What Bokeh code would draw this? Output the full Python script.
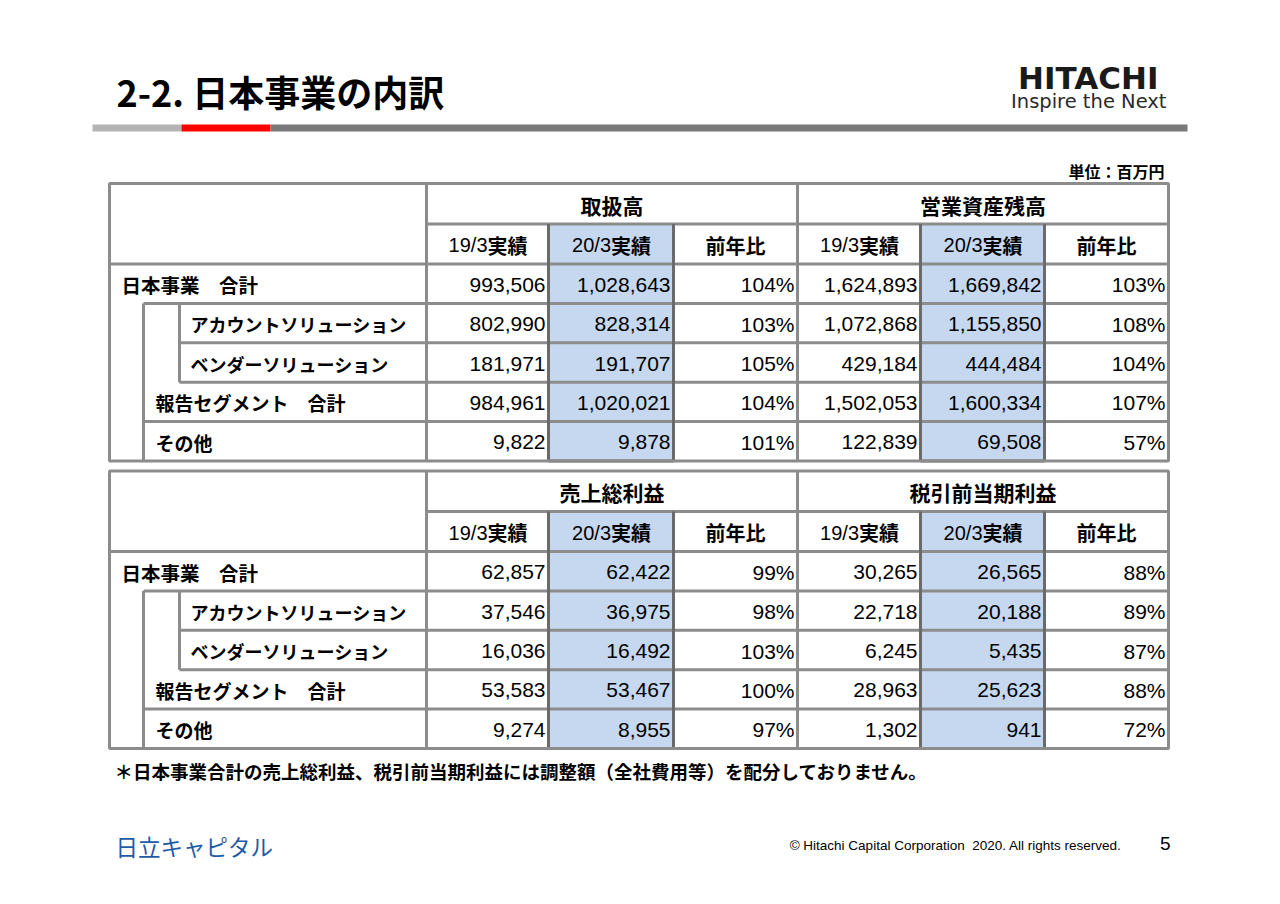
from bokeh.plotting import figure
from bokeh.models import Range1d, ColumnDataSource
from bokeh.core.properties import value
from bokeh.embed import file_html
from bokeh.resources import INLINE

# ---------------- data ----------------
title = "2-2. 日本事業の内訳"
unit_label = "単位：百万円"
footnote = "＊日本事業合計の売上総利益、税引前当期利益には調整額（全社費用等）を配分しておりません。"
company = "日立キャピタル"
copyright_text = "© Hitachi Capital Corporation\u00a0\u00a02020. All rights reserved."
page_no = "5"

row_labels = ["日本事業　合計", "アカウントソリューション", "ベンダーソリューション",
              "報告セグメント　合計", "その他"]
row_level = [0, 2, 2, 1, 1]
sub_headers = ["19/3", "20/3", "前年比"]
sub_suffix = "実績"

groups_top = ["取扱高", "営業資産残高"]
groups_bottom = ["売上総利益", "税引前当期利益"]

volume_fy19 = [993506, 802990, 181971, 984961, 9822]
volume_fy20 = [1028643, 828314, 191707, 1020021, 9878]
volume_yoy = [104, 103, 105, 104, 101]

assets_fy19 = [1624893, 1072868, 429184, 1502053, 122839]
assets_fy20 = [1669842, 1155850, 444484, 1600334, 69508]
assets_yoy = [103, 108, 104, 107, 57]

gross_fy19 = [62857, 37546, 16036, 53583, 9274]
gross_fy20 = [62422, 36975, 16492, 53467, 8955]
gross_yoy = [99, 98, 103, 100, 97]

pretax_fy19 = [30265, 22718, 6245, 28963, 1302]
pretax_fy20 = [26565, 20188, 5435, 25623, 941]
pretax_yoy = [88, 89, 87, 88, 72]

# ---------------- layout ----------------
W, H = 1264, 888
OFF = 8
p = figure(width=W, height=H, x_range=Range1d(OFF, OFF + W), y_range=Range1d(OFF + H, OFF),
           output_backend="svg", toolbar_location=None,
           x_axis_type=None, y_axis_type=None, min_border=0)
p.grid.visible = False
p.outline_line_color = None
p.background_fill_color = "white"
p.border_fill_color = "white"

JP = value("Noto Sans CJK JP")
LAT = value("Liberation Sans")
GRID = "#8c8c8c"
DARK = "#6a6a6a"
BLUE = "#c6d8f0"

S = 8

# header bar
p.quad(left=[92 + S, 181 + S, 270 + S], right=[181 + S, 270 + S, 1187 + S],
       top=[124 + S] * 3, bottom=[131 + S] * 3,
       fill_color=["#b4b4b4", "#ff0000", "#797979"], line_color=None)

p.text(x=[116 + S], y=[90 + S], text=[title], text_font=JP, text_font_style="bold",
       text_font_size="36px", text_baseline="middle", text_color="#000000")

p.text(x=[1158 + S], y=[77 + S], text=["HITACHI"], text_font=value("DejaVu Sans"), text_font_style="bold",
       text_font_size="31px", text_align="right", text_baseline="middle", text_color="#1a1a1a")
p.text(x=[1166 + S], y=[101 + S], text=["Inspire the Next"], text_font=value("DejaVu Sans"),
       text_font_size="19.5px", text_align="right", text_baseline="middle", text_color="#2a2a2a")

p.text(x=[1164 + S], y=[170 + S], text=[unit_label], text_font=JP, text_font_style="bold",
       text_font_size="16px", text_align="right", text_baseline="middle", text_color="#000000")

cols = [c + S for c in [109, 426, 548, 673, 797, 920, 1044, 1168]]
ind1, ind2 = 143 + S, 179 + S
H1, H2, RH = 40.5, 40.0, 39.4


def draw_table(top, groups, data):
    y_h2 = top + H1
    y_r0 = y_h2 + H2
    ys = [y_r0 + i * RH for i in range(6)]
    bottom = ys[-1]
    p.quad(left=[cols[2], cols[5]], right=[cols[3], cols[6]], top=[y_h2, y_h2],
           bottom=[bottom, bottom], fill_color=BLUE, line_color=None)
    x0, y0, x1, y1 = [], [], [], []

    def seg(a, b, c, d):
        x0.append(a); y0.append(b); x1.append(c); y1.append(d)

    seg(cols[1], top, cols[1], bottom)
    seg(cols[4], top, cols[4], bottom)
    for c in [cols[2], cols[3], cols[5], cols[6]]:
        seg(c, y_h2, c, bottom)
    seg(cols[1], y_h2, cols[7], y_h2)
    seg(cols[0], y_r0, cols[7], y_r0)
    seg(ind1, ys[1], cols[7], ys[1])
    seg(ind2, ys[2], cols[7], ys[2])
    seg(ind2, ys[3], cols[7], ys[3])
    seg(ind1, ys[4], cols[7], ys[4])
    seg(ind1, ys[1], ind1, bottom)
    seg(ind2, ys[1], ind2, ys[3])
    p.segment(x0=x0, y0=y0, x1=x1, y1=y1, line_color=GRID, line_width=3)
    p.segment(x0=[cols[2], cols[3], cols[5], cols[6], cols[2], cols[5]],
              y0=[y_h2, y_h2, y_h2, y_h2, bottom, bottom],
              x1=[cols[2], cols[3], cols[5], cols[6], cols[3], cols[6]],
              y1=[bottom, bottom, bottom, bottom, bottom, bottom],
              line_color=DARK, line_width=3)
    p.quad(left=[cols[0]], right=[cols[7]], top=[top], bottom=[bottom], fill_color=None,
           line_color=GRID, line_width=3)

    p.text(x=[(cols[1] + cols[4]) / 2, (cols[4] + cols[7]) / 2], y=[top + H1 / 2 + 1] * 2,
           text=groups, text_font=JP, text_font_style="bold", text_font_size="21px",
           text_align="center", text_baseline="middle", text_color="#000000")
    hx, ht = [], []
    for g in range(2):
        for k in range(2):
            ci = 1 + g * 3 + k
            hx.append((cols[ci] + cols[ci + 1]) / 2)
            ht.append(sub_headers[k])
    cy = y_h2 + H2 / 2 + 1
    p.text(x=hx, y=[cy] * 4, text=ht, text_font=LAT, text_font_size="20px",
           text_align="right", text_baseline="middle", text_color="#000000")
    p.text(x=hx, y=[cy] * 4, text=[sub_suffix] * 4, text_font=JP, text_font_style="bold",
           text_font_size="20px", text_align="left", text_baseline="middle", text_color="#000000")
    p.text(x=[(cols[3] + cols[4]) / 2, (cols[6] + cols[7]) / 2], y=[cy] * 2,
           text=[sub_headers[2]] * 2, text_font=JP, text_font_style="bold", text_font_size="20px",
           text_align="center", text_baseline="middle", text_color="#000000")

    lx = {0: 121 + S, 1: 155 + S, 2: 190 + S}
    lsz = {0: "19.5px", 1: "19px", 2: "18px"}
    ry = [ys[i] + RH / 2 + 1 for i in range(5)]
    for lvl in (0, 1, 2):
        idx = [i for i in range(5) if row_level[i] == lvl]
        p.text(x=[lx[lvl]] * len(idx), y=[ry[i] for i in idx], text=[row_labels[i] for i in idx],
               text_font=JP, text_font_style="bold", text_font_size=lsz[lvl], text_align="left",
               text_baseline="middle", text_color="#000000")

    nx, ny, nt = [], [], []
    for g, (a, b, pct) in enumerate(data):
        for i in range(5):
            for k, v in enumerate([f"{a[i]:,}", f"{b[i]:,}", f"{pct[i]}%"]):
                nx.append(cols[1 + g * 3 + k + 1] - 3)
                ny.append(ry[i])
                nt.append(v)
    src = ColumnDataSource(dict(x=nx, y=ny, t=nt))
    p.text(x="x", y="y", text="t", source=src, text_font=LAT, text_font_size="21px",
           text_align="right", text_baseline="middle", text_color="#000000")


draw_table(183 + S, groups_top, [(volume_fy19, volume_fy20, volume_yoy),
                                 (assets_fy19, assets_fy20, assets_yoy)])
draw_table(470.5 + S, groups_bottom, [(gross_fy19, gross_fy20, gross_yoy),
                                      (pretax_fy19, pretax_fy20, pretax_yoy)])

p.text(x=[114 + S], y=[770 + S], text=[footnote], text_font=JP, text_font_style="bold",
       text_font_size="18.5px", text_baseline="middle", text_color="#000000")

p.text(x=[115 + S], y=[845 + S], text=[company], text_font=JP, text_font_size="22.5px",
       text_baseline="middle", text_color="#1f5aa6")
p.text(x=[1121 + S], y=[845 + S], text=[copyright_text], text_font=LAT, text_font_size="13.5px",
       text_align="right", text_baseline="middle", text_color="#000000")
p.text(x=[1170 + S], y=[843 + S], text=[page_no], text_font=LAT, text_font_size="19px",
       text_align="right", text_baseline="middle", text_color="#000000")

open("out.html", "w").write(file_html(p, INLINE))
